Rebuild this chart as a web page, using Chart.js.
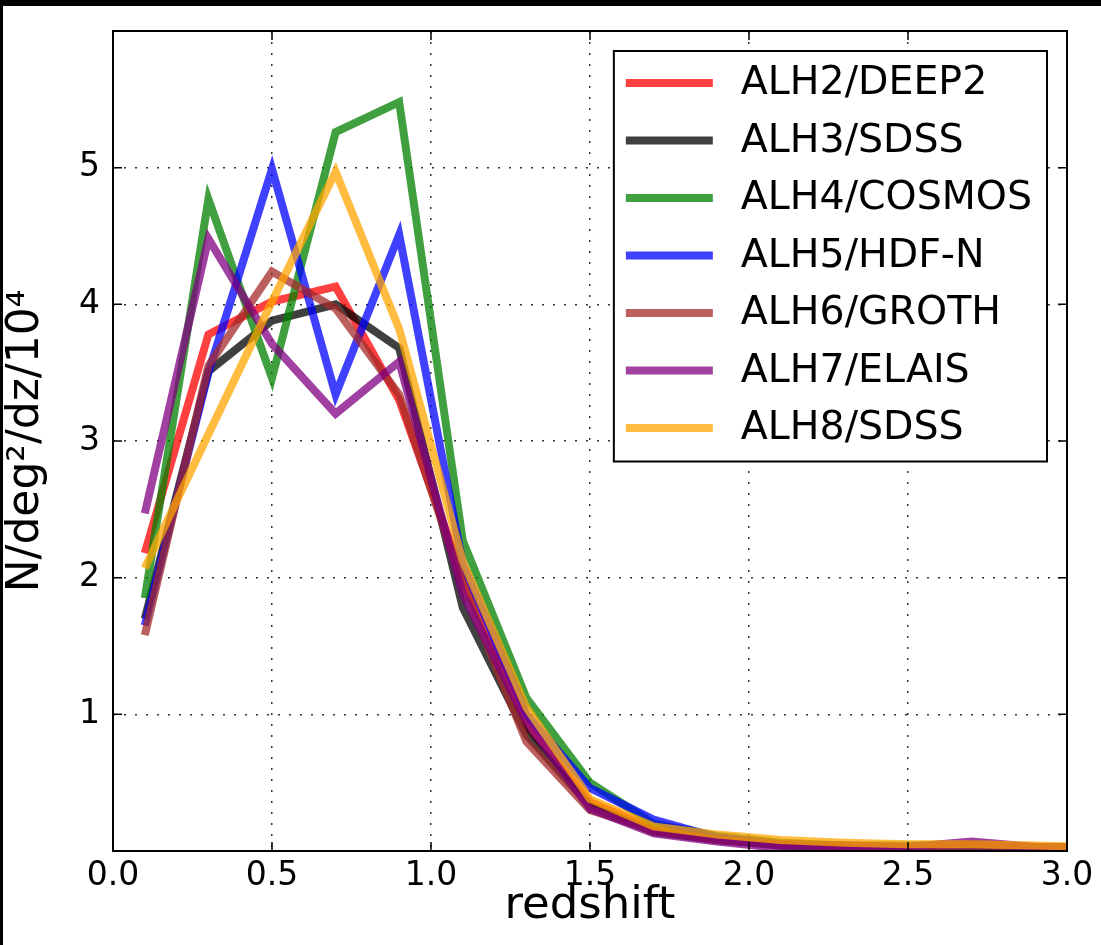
<!DOCTYPE html>
<html>
<head>
<meta charset="utf-8">
<script src="https://cdn.jsdelivr.net/npm/chart.js@4.4.1/dist/chart.umd.min.js"></script>
<style>
    html, body { margin: 0; padding: 0; background: #000; }
    #wrap { position: absolute; left: 3px; top: 6px; width: 1098px; height: 939px; background: #fff; }
</style>
</head>
<body>
<div id="wrap"><canvas id="redshift_canvas" width="1098" height="939"></canvas></div>
<script>
const redshift = [0.1, 0.3, 0.5, 0.7, 0.9, 1.1, 1.3, 1.5, 1.7, 1.9, 2.1, 2.3, 2.5, 2.7, 2.9, 3.1];

const alh2_deep2  = [2.18, 3.78, 4.02, 4.13, 3.30, 2.00, 0.92, 0.36, 0.16, 0.09, 0.05, 0.04, 0.03, 0.04, 0.03, 0.02];
const alh3_sdss   = [1.70, 3.51, 3.88, 4.00, 3.68, 1.78, 0.85, 0.33, 0.14, 0.08, 0.04, 0.03, 0.03, 0.04, 0.03, 0.02];
const alh4_cosmos = [1.85, 4.77, 3.46, 5.26, 5.48, 2.27, 1.12, 0.50, 0.20, 0.11, 0.06, 0.04, 0.04, 0.05, 0.03, 0.02];
const alh5_hdfn   = [1.65, 3.50, 4.99, 3.34, 4.51, 2.10, 1.00, 0.46, 0.23, 0.10, 0.05, 0.04, 0.03, 0.04, 0.03, 0.02];
const alh6_groth  = [1.58, 3.55, 4.24, 3.97, 3.34, 1.95, 0.80, 0.30, 0.15, 0.08, 0.05, 0.04, 0.03, 0.04, 0.03, 0.02];
const alh7_elais  = [2.47, 4.48, 3.71, 3.20, 3.58, 1.88, 0.95, 0.31, 0.13, 0.07, 0.02, 0.02, 0.03, 0.07, 0.03, 0.02];
const alh8_sdss   = [2.07, 3.05, 4.02, 4.97, 3.82, 2.12, 1.05, 0.38, 0.18, 0.12, 0.08, 0.06, 0.05, 0.05, 0.04, 0.03];

const series_labels = ["ALH2/DEEP2", "ALH3/SDSS", "ALH4/COSMOS", "ALH5/HDF-N", "ALH6/GROTH", "ALH7/ELAIS", "ALH8/SDSS"];
const series_values = [alh2_deep2, alh3_sdss, alh4_cosmos, alh5_hdfn, alh6_groth, alh7_elais, alh8_sdss];
const series_colors = [
    "rgba(255,0,0,0.75)",
    "rgba(0,0,0,0.75)",
    "rgba(0,128,0,0.75)",
    "rgba(0,0,255,0.75)",
    "rgba(165,42,42,0.75)",
    "rgba(128,0,128,0.75)",
    "rgba(255,165,0,0.75)"
];

const x_ticks = [0.0, 0.5, 1.0, 1.5, 2.0, 2.5, 3.0];
const y_ticks = [1, 2, 3, 4, 5];

Chart.defaults.font.family = "'DejaVu Sans', sans-serif";
Chart.defaults.color = "#000";

// frame, inward tick marks and the legend box inside the plot
const frame_and_legend = {
    id: 'frame_and_legend',
    afterDatasetsDraw(chart) {
        const {ctx, chartArea: a, scales} = chart;
        ctx.save();
        ctx.setLineDash([]);
        ctx.strokeStyle = "#000";
        ctx.lineWidth = 1.5;
        const tick = 9;
        ctx.beginPath();
        for (const v of x_ticks) {
            const px = scales.x.getPixelForValue(v);
            ctx.moveTo(px, a.bottom); ctx.lineTo(px, a.bottom - tick);
            ctx.moveTo(px, a.top); ctx.lineTo(px, a.top + tick);
        }
        for (const v of y_ticks) {
            const py = scales.y.getPixelForValue(v);
            ctx.moveTo(a.left, py); ctx.lineTo(a.left + tick, py);
            ctx.moveTo(a.right, py); ctx.lineTo(a.right - tick, py);
        }
        ctx.stroke();

        ctx.lineWidth = 2;
        ctx.strokeRect(a.left, a.top, a.right - a.left, a.bottom - a.top);

        // legend
        ctx.font = "39.5px 'DejaVu Sans'";
        let text_w = 0;
        for (const l of series_labels) {
            text_w = Math.max(text_w, ctx.measureText(l).width);
        }
        const row_h = 57.5;
        const box_w = 12 + 87 + 28 + text_w + 15;
        const box_h = row_h * series_labels.length + 8;
        const box_r = a.right - 20;
        const box_l = box_r - box_w;
        const box_t = a.top + 20;
        ctx.fillStyle = "#fff";
        ctx.fillRect(box_l, box_t, box_w, box_h);
        ctx.lineWidth = 2;
        ctx.strokeRect(box_l, box_t, box_w, box_h);
        ctx.textBaseline = "middle";
        ctx.textAlign = "left";
        series_labels.forEach((label, i) => {
            const cy = box_t + 32 + i * row_h;
            ctx.strokeStyle = series_colors[i];
            ctx.lineWidth = 8;
            ctx.lineCap = "butt";
            ctx.beginPath();
            ctx.moveTo(box_l + 12, cy);
            ctx.lineTo(box_l + 99, cy);
            ctx.stroke();
            ctx.fillStyle = "#000";
            ctx.fillText(label, box_l + 127, cy + 1);
        });
        ctx.restore();
    }
};

let datasets = [];
for (let i = 0; i < series_labels.length; i++) {
    datasets.push({
        label: series_labels[i],
        data: redshift.map((z, j) => ({x: z, y: series_values[i][j]})),
        borderColor: series_colors[i],
        backgroundColor: series_colors[i],
        borderWidth: 8,
        borderJoinStyle: 'miter',
        pointRadius: 0,
        tension: 0,
        fill: false,
        clip: 0,
        order: series_labels.length - i
    });
}

let config = {
    type: 'line',
    data: {datasets: datasets},
    options: {
        responsive: false,
        animation: false,
        layout: {padding: {left: 0, top: 25, right: 34, bottom: 0}},
        plugins: {
            legend: {display: false},
            tooltip: {enabled: false}
        },
        scales: {
            x: {
                type: 'linear',
                min: 0,
                max: 3,
                afterBuildTicks: (scale) => { scale.ticks = x_ticks.map(v => ({value: v})); },
                afterFit: (scale) => { scale.height = 94; },
                ticks: {
                    font: {size: 33},
                    padding: 6,
                    maxRotation: 0,
                    callback: (v) => Number(v).toFixed(1)
                },
                grid: {color: "#333", lineWidth: 1.5, drawTicks: false},
                border: {display: false, dash: [2, 9]},
                title: {
                    display: true,
                    text: "redshift",
                    font: {size: 45},
                    padding: {top: 0, bottom: 12}
                }
            },
            y: {
                type: 'linear',
                min: 0,
                max: 6,
                afterBuildTicks: (scale) => { scale.ticks = y_ticks.map(v => ({value: v})); },
                afterFit: (scale) => {
                    scale.width = 110;
                    scale.paddingTop = 0;
                    scale.paddingBottom = 0;
                },
                ticks: {
                    font: {size: 33},
                    padding: 13
                },
                grid: {color: "#333", lineWidth: 1.5, drawTicks: false},
                border: {display: false, dash: [2, 9]},
                title: {
                    display: true,
                    text: "N/deg\u00b2/dz/10\u2074",
                    font: {size: 44},
                    padding: {top: -3, bottom: 0}
                }
            }
        }
    },
    plugins: [frame_and_legend]
};

const redshift_plot = new Chart(document.getElementById('redshift_canvas'), config);
</script>
</body>
</html>
